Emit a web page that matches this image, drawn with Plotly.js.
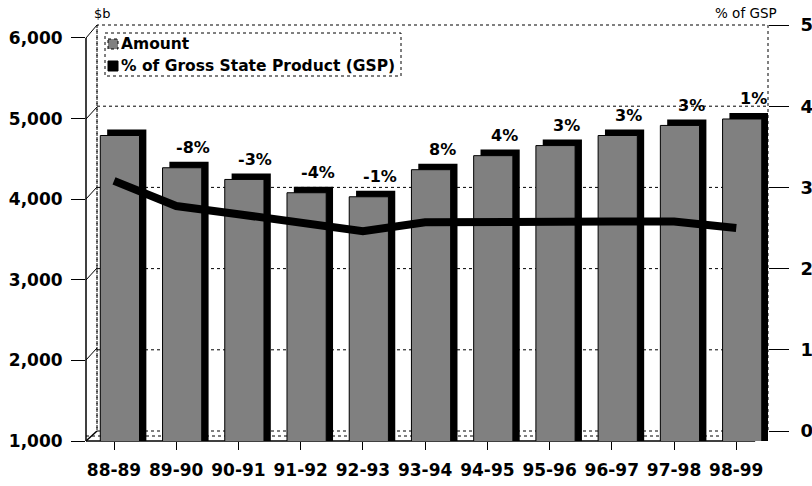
<!DOCTYPE html>
<html>
<head>
<meta charset="utf-8">
<script src="https://cdn.plot.ly/plotly-3.0.1.min.js"></script>
<style>html,body{margin:0;padding:0;background:#fff;}#chart{width:812px;height:486px;}</style>
</head>
<body>
<div id="chart"></div>
<script>
// ---- data ----
const categories = ['88-89','89-90','90-91','91-92','92-93','93-94','94-95','95-96','96-97','97-98','98-99'];
const amount = [4790, 4390, 4245, 4080, 4030, 4366, 4540, 4665, 4790, 4915, 4995];
const gspPct = [3.08, 2.77, 2.67, 2.57, 2.46, 2.57, 2.58, 2.58, 2.58, 2.58, 2.50];
const changeLabels = ['', '-8%', '-3%', '-4%', '-1%', '8%', '4%', '3%', '3%', '3%', '1%'];
const leftTicks = [1000, 2000, 3000, 4000, 5000, 6000];
const rightTicks = [0, 1, 2, 3, 4, 5];
const seriesNames = ['Amount', '% of Gross State Product (GSP)'];

// ---- styling constants ----
const FONT = 'DejaVu Sans, Arial, sans-serif';
const W = 812, H = 486;
const M = {l: 86, r: 44, t: 25, b: 45};
const PW = W - M.l - M.r, PH = H - M.t - M.b;
const px = x => (x - M.l) / PW;
const py = y => (H - M.b - y) / PH;
const DEPTH_Y = 75;      // 3D depth shown as value offset for shadow bar
const BAR_OFFSET = -0.22, BAR_WIDTH = 0.63, DEPTH_X = 0.11;
const GRAY = '#808080';

const xIdx = categories.map((c, i) => i);

const shadow = {
  type: 'bar', x: xIdx, y: amount.map(v => v + DEPTH_Y),
  offset: BAR_OFFSET + DEPTH_X, width: BAR_WIDTH,
  marker: {color: '#000000', line: {width: 0}},
  showlegend: false, hoverinfo: 'skip', yaxis: 'y'
};
const bars = {
  type: 'bar', name: seriesNames[0], x: xIdx, y: amount,
  offset: BAR_OFFSET, width: BAR_WIDTH,
  marker: {color: GRAY, line: {color: '#000000', width: 1}},
  yaxis: 'y', showlegend: false
};
const line = {
  type: 'scatter', mode: 'lines', name: seriesNames[1],
  x: xIdx, y: gspPct, yaxis: 'y2',
  line: {color: '#000000', width: 8}, showlegend: false
};

const annotations = changeLabels.map((t, i) => ({
  x: i, y: amount[i], xref: 'x', yref: 'y', text: t, showarrow: false,
  xshift: 17, yshift: 20, font: {family: FONT, size: 16, color: '#000', weight: 'bold'}
})).filter(a => a.text !== '');
annotations.push({xref: 'paper', yref: 'paper', x: px(92), y: py(13), xanchor: 'left', yanchor: 'middle',
  text: '$b', showarrow: false, font: {family: FONT, size: 13, color: '#000'}});
annotations.push({xref: 'paper', yref: 'paper', x: px(779), y: py(13), xanchor: 'right', yanchor: 'middle',
  text: '% of GSP', showarrow: false, font: {family: FONT, size: 13.5, color: '#000'}});
// legend labels
[44, 66].forEach((yy, k) => annotations.push({xref: 'paper', yref: 'paper', x: px(119), y: py(yy),
  xanchor: 'left', yanchor: 'middle', text: seriesNames[k], showarrow: false,
  font: {family: FONT, size: 15.5, color: '#000', weight: 'bold'}}));

const shapes = [];
const L = (x0, y0, x1, y1, dash, w) => shapes.push({type: 'line', xref: 'paper', yref: 'paper',
  x0: px(x0), y0: py(y0), x1: px(x1), y1: py(y1), layer: 'below',
  line: {color: '#000', width: w || 1, dash: dash || 'solid'}});
// back wall
shapes.push({type: 'rect', xref: 'paper', yref: 'paper', x0: px(97), x1: px(768), y0: py(431), y1: py(25),
  layer: 'below', line: {color: '#000', width: 1, dash: 'dot'}});
// gridlines on back wall from right-axis ticks
rightTicks.slice(1, -1).forEach(v => shapes.push({type: 'line', xref: 'paper', yref: 'y2',
  x0: px(97), x1: 1, y0: v, y1: v, layer: 'below', line: {color: '#000', width: 1, dash: 'dot'}}));
// left wall
L(86, 441, 86, 38, 'solid', 1.5);
L(86, 38, 97, 25, 'solid', 1);
L(86, 441, 97, 431, 'solid', 1.5);
L(97, 25, 97, 431, 'dot', 1);
[360, 280, 199, 119].forEach(y => L(86, y, 97, y - 12, 'solid', 1));
// floor
L(86, 441, 755, 441, 'solid', 1.5);
L(86, 436, 755, 436, 'dot', 1);
L(755, 441, 768, 431, 'solid', 1);
// custom legend box and keys
const R = (x0, y0, x1, y1, fill, dash, layer) => shapes.push({type: 'rect', xref: 'paper', yref: 'paper',
  x0: px(x0), y0: py(y0), x1: px(x1), y1: py(y1), layer: layer || 'above', fillcolor: fill,
  line: {color: '#000', width: 1, dash: dash || 'solid'}});
R(105, 33, 401, 76, '#ffffff', 'dot', 'above');
R(108, 39, 118, 49, GRAY, 'dot', 'above');
R(108, 61, 118, 71, '#000000', 'solid', 'above');

const layout = {
  width: W, height: H,
  margin: {l: M.l, r: M.r, t: M.t, b: M.b, pad: 0},
  paper_bgcolor: '#fff', plot_bgcolor: 'rgba(0,0,0,0)',
  barmode: 'overlay', showlegend: false,
  font: {family: FONT, color: '#000'},
  xaxis: {
    range: [-0.45, 10.51], tickmode: 'array', tickvals: xIdx, ticktext: categories,
    showgrid: false, zeroline: false, showline: false,
    ticks: 'outside', ticklen: 8, tickcolor: '#000', tickwidth: 1,
    ticklabelstandoff: 6,
    tickfont: {family: FONT, size: 17, color: '#000', weight: 'bold'}
  },
  yaxis: {
    range: [1000, 6161], tickmode: 'array', tickvals: leftTicks,
    ticktext: leftTicks.map(v => v.toLocaleString('en-US')),
    showgrid: false, zeroline: false, showline: false,
    ticks: 'outside', ticklen: 14, tickcolor: '#000', tickwidth: 1,
    ticklabelstandoff: 5,
    tickfont: {family: FONT, size: 17, color: '#000', weight: 'bold'}
  },
  yaxis2: {
    overlaying: 'y', side: 'right', range: [-0.123, 5], tickmode: 'array', tickvals: rightTicks,
    showgrid: false, zeroline: false, showline: false,
    ticks: 'outside', ticklen: 20, tickcolor: '#000', tickwidth: 1,
    ticklabelstandoff: 8,
    tickfont: {family: FONT, size: 18, color: '#000', weight: 'bold'}
  },
  annotations: annotations,
  shapes: shapes
};

Plotly.newPlot('chart', [shadow, bars, line], layout, {displayModeBar: false, staticPlot: true});
</script>
</body>
</html>
